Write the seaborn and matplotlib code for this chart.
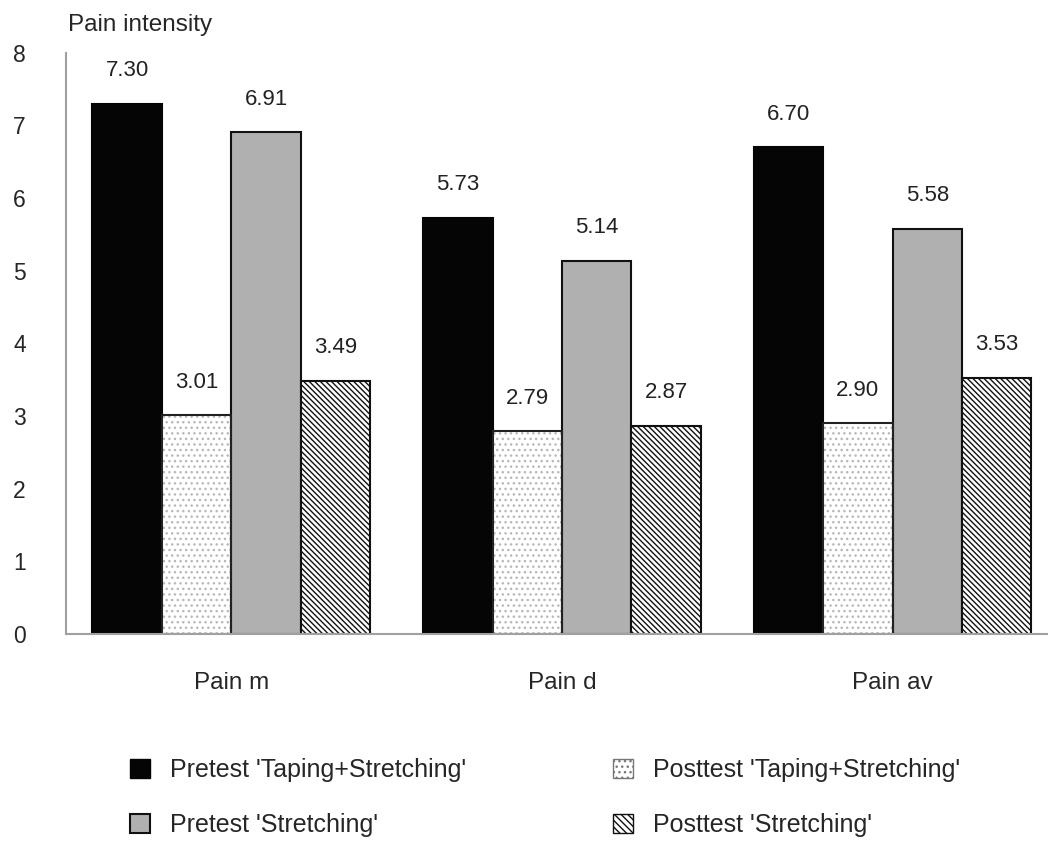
import pandas as pd
import matplotlib.pyplot as plt
import seaborn as sns
from matplotlib.patches import Patch

# values
categories = ['Pain m', 'Pain d', 'Pain av']
groups = ["Pretest 'Taping+Stretching'", "Posttest 'Taping+Stretching'",
          "Pretest 'Stretching'", "Posttest 'Stretching'"]
pre_taping = [7.30, 5.73, 6.70]
post_taping = [3.01, 2.79, 2.90]
pre_stretch = [6.91, 5.14, 5.58]
post_stretch = [3.49, 2.87, 3.53]

rows = []
for name, vals in zip(groups, [pre_taping, post_taping, pre_stretch, post_stretch]):
    for cat, v in zip(categories, vals):
        rows.append({'Measure': cat, 'Group': name, 'Value': v})
df = pd.DataFrame(rows)

sns.set_style('white')
plt.rcParams['font.family'] = ['Liberation Sans', 'DejaVu Sans']
plt.rcParams['hatch.linewidth'] = 1.0

fig = plt.figure(figsize=(10.48, 8.64), dpi=100)
ax = fig.add_axes([0.063, 0.266, 0.937, 0.673])

face = ['#050505', 'white', '#b0b0b0', 'white']
edge = ['#050505', '#b8b8b8', '#111111', '#111111']
hatch = [None, '...', None, '\\\\\\\\\\\\']

sns.barplot(data=df, x='Measure', y='Value', hue='Group', hue_order=groups,
            palette=face, width=0.84, gap=0, saturation=1, ax=ax, legend=False)

for i, cont in enumerate(ax.containers):
    for bar in cont:
        bar.set_facecolor(face[i])
        bar.set_edgecolor(edge[i])
        bar.set_linewidth(1.5 if i != 1 else 0)
        if hatch[i]:
            bar.set_hatch(hatch[i])
    ax.bar_label(cont, fmt='%.2f', padding=16, fontsize=16, color='#222222')

# dark outline on top of the dotted bars
for bar in ax.containers[1]:
    ax.add_patch(plt.Rectangle(bar.get_xy(), bar.get_width(), bar.get_height(),
                               fill=False, edgecolor='#222222', linewidth=1.5))

ax.set_ylim(0, 8)
ax.set_xlim(-0.5, 2.47)
ax.set_xlabel('')
ax.set_ylabel('')
ax.set_yticks(range(0, 9))
ax.tick_params(axis='y', length=0, pad=29, labelsize=16.5)
ax.tick_params(axis='x', length=0, pad=27, labelsize=17.5)

sns.despine(ax=ax)
for s in ['left', 'bottom']:
    ax.spines[s].set_color('#a0a0a0')
    ax.spines[s].set_linewidth(1.5)

fig.text(0.065, 0.971, 'Pain intensity', fontsize=17.5, va='center', ha='left')

left_handles = [Patch(facecolor=face[0], edgecolor=edge[0], label=groups[0]),
                Patch(facecolor=face[2], edgecolor='#111111', linewidth=1.5, label=groups[2])]
right_handles = [Patch(facecolor='white', edgecolor='#777777', hatch='...', label=groups[1]),
                 Patch(facecolor='white', edgecolor='#111111', hatch='\\\\\\\\\\', label=groups[3])]

leg_kw = dict(loc='center left', frameon=False, fontsize=18, borderpad=0, borderaxespad=0,
              handlelength=0.8, handleheight=0.8, labelspacing=1.25, handletextpad=0.8)
leg1 = fig.legend(handles=left_handles, bbox_to_anchor=(0.124, 0.077), **leg_kw)
leg2 = fig.legend(handles=right_handles, bbox_to_anchor=(0.585, 0.077), **leg_kw)

plt.savefig('out.png', dpi=100)
